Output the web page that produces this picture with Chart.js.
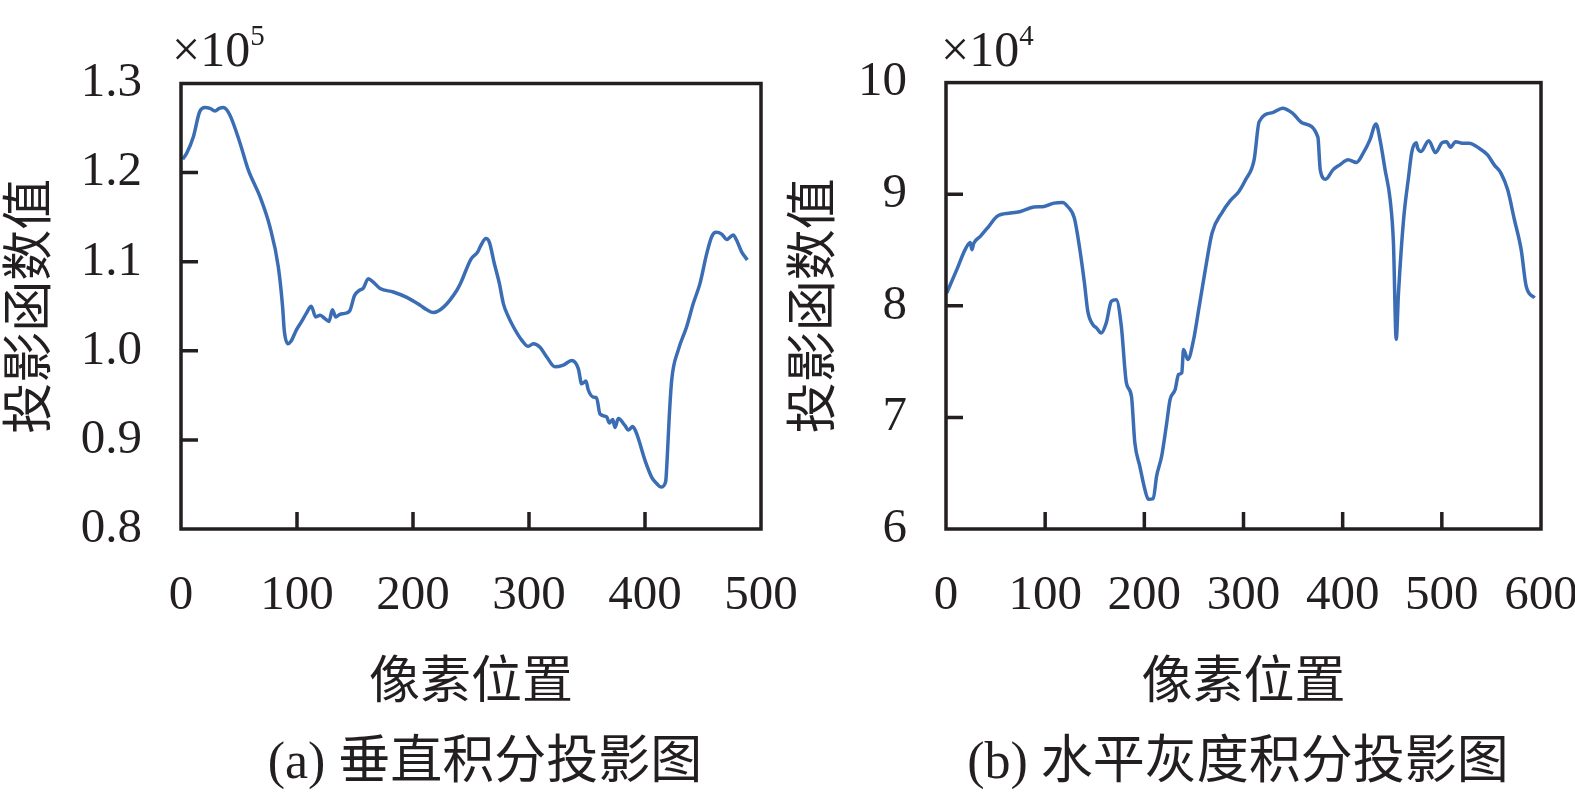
<!DOCTYPE html>
<html>
<head>
<meta charset="utf-8">
<script src="https://cdn.jsdelivr.net/npm/chart.js@4.4.0/dist/chart.umd.min.js"></script>
<style>
body { margin: 0; background: #fff; }
#wrap { position: relative; width: 1575px; height: 797px; overflow: hidden; color: #231f20;
        font-family: 'Liberation Serif', 'Noto Sans CJK SC', serif; }
canvas { position: absolute; top: 0; }
.lbl { position: absolute; white-space: nowrap; line-height: 1; }
.sup { position: relative; top: -21px; font-size: 29px; }
</style>
</head>
<body>
<div id="wrap">
  <canvas id="vertChart" width="840" height="797" style="left:0"></canvas>
  <canvas id="horzChart" width="840" height="797" style="left:780px"></canvas>
  <div class="lbl" style="left:172px;top:24px;font-size:50px">×10<span class="sup">5</span></div>
  <div class="lbl" style="left:941px;top:24px;font-size:50px">×10<span class="sup">4</span></div>
  <div class="lbl" style="left:485px;top:735px;font-size:52px;transform:translateX(-50%)">(a) 垂直积分投影图</div>
  <div class="lbl" style="left:1238px;top:735px;font-size:52px;transform:translateX(-50%)">(b) 水平灰度积分投影图</div>
</div>
<script>
// (a) vertical projection, values in units of 1e5
const vertX = [1.5, 5, 10.6, 16, 20.7, 25, 29.3, 33, 36.5, 42, 50.9, 58, 68.1, 76.7, 83.9, 87.6, 89, 92.1, 95, 99.3,
  104, 108, 112.3, 116.1, 120, 122.4, 127.6, 130.5, 133.4, 137, 141.2, 145.5, 149.6, 154, 157, 161.5, 165.8, 171.6,
  183, 194.7, 206.3, 212, 217.7, 226.3, 237.8, 241.4, 250, 255.8, 258.4, 262.9, 265.8, 270.1, 274.4, 277.9, 281.6,
  286.5, 293.7, 299.4, 303.7, 309.5, 315.3, 322.4, 329.6, 336.8, 342.5, 345.4, 349.1, 351.1, 355.4, 358.3, 361.2,
  366.9, 369.2, 372.2, 374.1, 377, 382.8, 385.6, 389.4, 392.8, 400, 405.8, 410.1, 413.8, 417.8, 419.2, 420.9, 423,
  428.7, 435.9, 441.6, 447.5, 453.2, 457.5, 461.2, 466.1, 470.4, 476.1, 479, 483.3, 488.2];
const vertY = [1.215, 1.222, 1.240, 1.268, 1.273, 1.272, 1.269, 1.272, 1.273, 1.265, 1.233, 1.203, 1.173, 1.139, 1.094,
  1.049, 1.023, 1.008, 1.011, 1.023, 1.033, 1.042, 1.050, 1.038, 1.040, 1.038, 1.033, 1.046, 1.038, 1.041, 1.042,
  1.045, 1.062, 1.068, 1.070, 1.081, 1.077, 1.070, 1.066, 1.060, 1.051, 1.046, 1.043, 1.049, 1.068, 1.077, 1.103,
  1.111, 1.118, 1.126, 1.122, 1.098, 1.076, 1.053, 1.040, 1.027, 1.012, 1.005, 1.008, 1.004, 0.993, 0.982, 0.984,
  0.989, 0.980, 0.963, 0.966, 0.956, 0.948, 0.947, 0.929, 0.926, 0.919, 0.923, 0.914, 0.924, 0.916, 0.911, 0.915,
  0.907, 0.877, 0.858, 0.851, 0.847, 0.853, 0.881, 0.926, 0.967, 1.001, 1.027, 1.053, 1.076, 1.109, 1.128, 1.133,
  1.131, 1.125, 1.130, 1.124, 1.111, 1.102];

// (b) horizontal grey projection, values in units of 1e4
const horzX = [0.7, 10.9, 19.3, 24.4, 26.1, 28, 34.6, 43, 51.5, 65, 75.2, 88.7, 98.9, 109, 117.6, 122.7, 129.4, 134.5,
  139.6, 143, 148.1, 152, 156.5, 161.6, 166.7, 171.7, 176.8, 181.9, 187, 190.4, 195.4, 200.5, 204, 209, 212.4, 217.5,
  222.6, 226, 231.1, 234.5, 237.8, 239.5, 243.9, 249.7, 254.8, 261.5, 268.3, 278.5, 286.9, 295.4, 302.1, 310.7,
  315.8, 329.3, 339.4, 349.6, 359.8, 375, 377.4, 382.8, 390.2, 397.1, 405.5, 413.9, 420.7, 427.5, 433.6, 437.7,
  442.8, 447.9, 451.2, 454, 456.3, 461.4, 466.5, 469.8, 474.2, 475.6, 479, 486.8, 493.6, 500.3, 504.8, 508.8, 513.9,
  520.6, 527.4, 537.6, 546.1, 552.8, 559.6, 566.4, 573.2, 580, 585.1, 593.5];
const horzY = [8.115, 8.324, 8.503, 8.568, 8.503, 8.56, 8.622, 8.71, 8.801, 8.831, 8.845, 8.885, 8.890, 8.920, 8.926,
  8.890, 8.786, 8.532, 8.205, 7.950, 7.832, 7.80, 7.757, 7.847, 8.040, 8.055, 7.817, 7.310, 7.190, 6.774, 6.564,
  6.356, 6.267, 6.273, 6.475, 6.654, 6.953, 7.161, 7.250, 7.385, 7.400, 7.608, 7.519, 7.698, 7.966, 8.324, 8.652,
  8.838, 8.945, 9.025, 9.129, 9.308, 9.650, 9.731, 9.770, 9.725, 9.636, 9.511, 9.218, 9.135, 9.218, 9.263, 9.308,
  9.284, 9.368, 9.487, 9.630, 9.487, 9.218, 8.950, 8.563, 7.70, 8.115, 8.771, 9.158, 9.382, 9.462, 9.412, 9.382,
  9.480, 9.373, 9.462, 9.471, 9.421, 9.471, 9.457, 9.457, 9.412, 9.352, 9.263, 9.189, 9.039, 8.771, 8.503, 8.174,
  8.071];

const xTitle = '像素位置';
const yTitle = '投影函数值';
const ink = '#231f20';
const lineColor = '#3b6db4';

// box round the plot plus inward tick marks
const framePlugin = {
  id: 'frame',
  afterDraw(chart) {
    const ctx = chart.ctx;
    const a = chart.chartArea;
    const x = chart.scales.x, y = chart.scales.y;
    ctx.save();
    ctx.strokeStyle = ink;
    ctx.lineWidth = 3.5;
    ctx.strokeRect(a.left, a.top, a.right - a.left, a.bottom - a.top);
    ctx.beginPath();
    x.ticks.forEach(t => {
      if (t.value > x.min && t.value < x.max) {
        const px = x.getPixelForValue(t.value);
        ctx.moveTo(px, a.bottom);
        ctx.lineTo(px, a.bottom - 17);
      }
    });
    y.ticks.forEach(t => {
      if (t.value > y.min && t.value < y.max) {
        const py = y.getPixelForValue(t.value);
        ctx.moveTo(a.left, py);
        ctx.lineTo(a.left + 17, py);
      }
    });
    ctx.stroke();
    ctx.restore();
  }
};

function makeChart(id, xs, ys, xMax, yMin, yMax, yStep, decimals, yAxisWidth, top, yTitlePad) {
  const points = xs.map((v, i) => ({ x: v, y: ys[i] }));
  const tickFont = { family: "'Liberation Serif', serif", size: 49 };
  const titleFont = { family: "'Noto Sans CJK SC', sans-serif", size: 51, lineHeight: 1.05 };
  return new Chart(document.getElementById(id), {
    type: 'line',
    data: {
      datasets: [{
        data: points,
        borderColor: lineColor,
        borderWidth: 3.5,
        pointRadius: 0,
        cubicInterpolationMode: 'monotone',
        fill: false
      }]
    },
    options: {
      responsive: false,
      animation: false,
      devicePixelRatio: 1,
      layout: { padding: { left: 0, top: top, right: 79, bottom: 92 } },
      plugins: { legend: { display: false }, tooltip: { enabled: false } },
      scales: {
        x: {
          type: 'linear',
          min: 0,
          max: xMax,
          grid: { display: false },
          border: { display: false },
          ticks: { stepSize: 100, color: ink, font: tickFont, padding: 30, maxRotation: 0 },
          title: { display: true, text: xTitle, color: ink, font: titleFont, padding: 0 },
          afterFit: s => { s.height = 176; }
        },
        y: {
          min: yMin,
          max: yMax,
          grid: { display: false },
          border: { display: false },
          ticks: { stepSize: yStep, color: ink, font: tickFont, padding: 31,
                   callback: v => v.toFixed(decimals) },
          title: { display: true, text: yTitle, color: ink, font: titleFont, padding: { top: yTitlePad } },
          afterFit: s => { s.width = yAxisWidth; }
        }
      }
    },
    plugins: [framePlugin]
  });
}

makeChart('vertChart', vertX, vertY, 500, 0.8, 1.3, 0.1, 1, 181, 83.5, 0);
makeChart('horzChart', horzX, horzY, 600, 6, 10, 1, 0, 166, 82.6, 4);
</script>
</body>
</html>
